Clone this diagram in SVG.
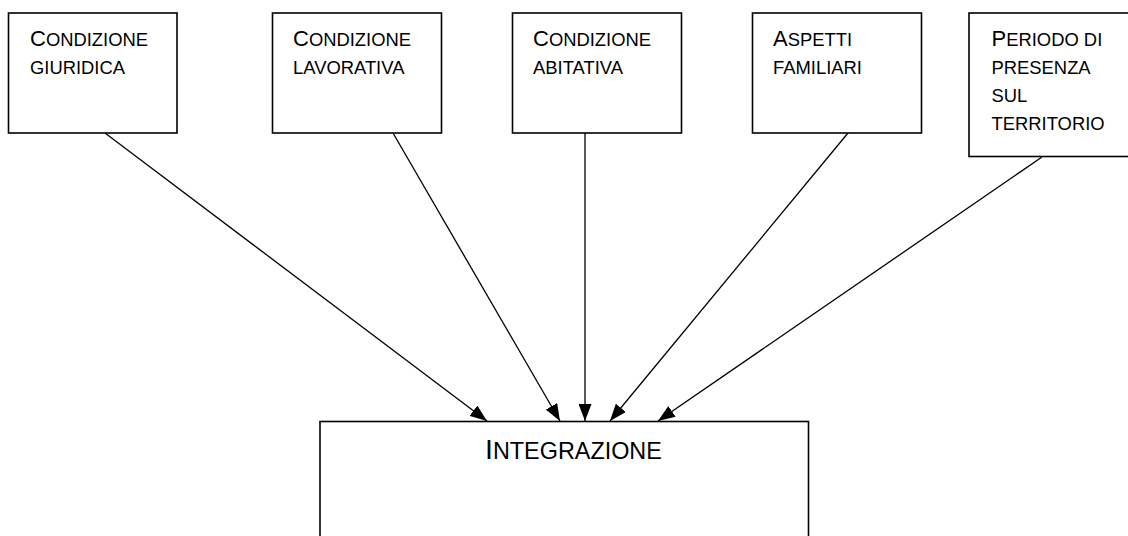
<svg xmlns="http://www.w3.org/2000/svg" width="1128" height="536" viewBox="0 0 1128 536">
<style>
.box{fill:#fff;stroke:#000;stroke-width:1.6}
.t{font-family:"Liberation Sans",Arial,sans-serif;font-size:18.4px;fill:#000}
.b{font-size:22px}
.it{font-family:"Liberation Sans",Arial,sans-serif;font-size:23.4px;fill:#000}
.ib{font-size:28.5px}
.c{stroke:#000;stroke-width:1.3;fill:none;marker-end:url(#ah)}
</style>
<defs>
<marker id="ah" markerUnits="userSpaceOnUse" markerWidth="17" markerHeight="13" refX="17" refY="6.5" orient="auto" viewBox="0 0 17 13">
<path d="M0,0 L17,6.5 L0,13 z" fill="#000"/>
</marker>
</defs>
<g id="connectors">
<line class="c" x1="105" y1="133" x2="487" y2="421"/>
<line class="c" x1="393" y1="133" x2="560" y2="421"/>
<line class="c" x1="585" y1="133" x2="585" y2="421"/>
<line class="c" x1="848" y1="133" x2="610" y2="421"/>
<line class="c" x1="1042" y1="157" x2="658" y2="421"/>
</g>
<g id="n1">
<rect class="box" x="8.5" y="13" width="168.5" height="120"/>
<text class="t" x="30" y="46"><tspan class="b">C</tspan>ONDIZIONE</text>
<text class="t" x="30" y="74">GIURIDICA</text>
</g>
<g id="n2">
<rect class="box" x="272.5" y="13" width="169" height="120"/>
<text class="t" x="293" y="46"><tspan class="b">C</tspan>ONDIZIONE</text>
<text class="t" x="293" y="74">LAVORATIVA</text>
</g>
<g id="n3">
<rect class="box" x="512.5" y="13" width="169" height="120"/>
<text class="t" x="533" y="46"><tspan class="b">C</tspan>ONDIZIONE</text>
<text class="t" x="533" y="74">ABITATIVA</text>
</g>
<g id="n4">
<rect class="box" x="752.5" y="13" width="169" height="120"/>
<text class="t" x="773" y="46"><tspan class="b">A</tspan>SPETTI</text>
<text class="t" x="773" y="74">FAMILIARI</text>
</g>
<g id="n5">
<rect class="box" x="969" y="13" width="170" height="143.5"/>
<text class="t" x="991.5" y="46"><tspan class="b">P</tspan>ERIODO DI</text>
<text class="t" x="991.5" y="74">PRESENZA</text>
<text class="t" x="991.5" y="102">SUL</text>
<text class="t" x="991.5" y="129.5">TERRITORIO</text>
</g>
<g id="n6">
<rect class="box" x="320" y="421.5" width="488.5" height="130"/>
<text class="it" x="485" y="459"><tspan class="ib">I</tspan>NTEGRAZIONE</text>
</g>
</svg>
